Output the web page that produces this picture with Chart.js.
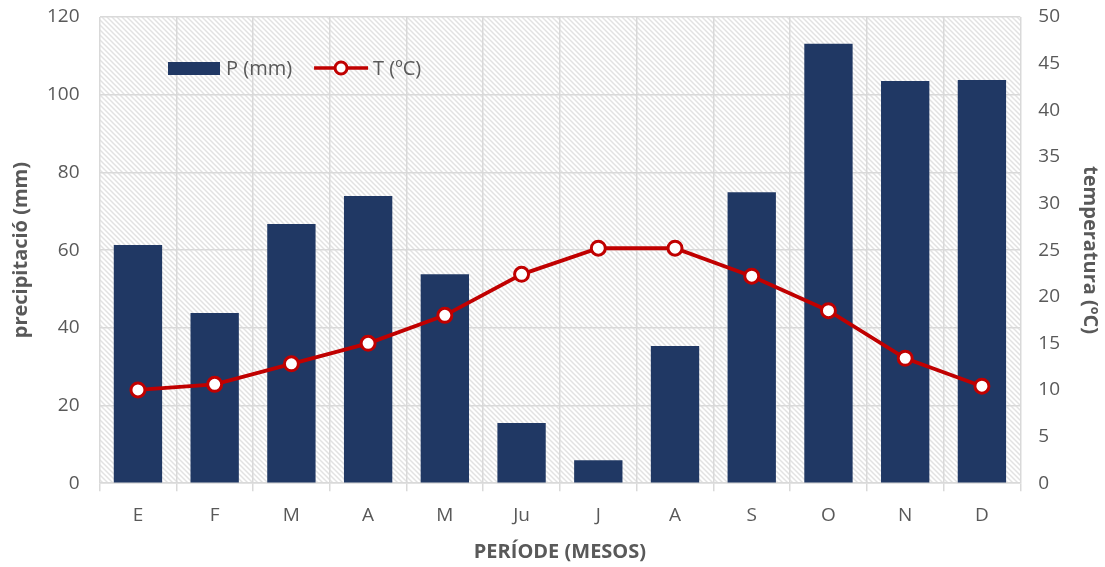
<!DOCTYPE html>
<html>
<head>
<meta charset="utf-8">
<script src="https://cdn.jsdelivr.net/npm/chart.js@4/dist/chart.umd.min.js"></script>
<style>
  html, body { margin: 0; padding: 0; background: #fff; }
  #wrap { width: 1105px; height: 567px; position: relative; }
</style>
</head>
<body>
<div id="wrap"><canvas id="climaChart"></canvas></div>
<script>
// Climograma: precipitació (barres) i temperatura (línia)
const mesos = ['E', 'F', 'M', 'A', 'M', 'Ju', 'J', 'A', 'S', 'O', 'N', 'D'];
const precipitacio = [61.3, 43.8, 66.7, 73.9, 53.8, 15.5, 5.9, 35.3, 74.9, 113.1, 103.5, 103.8];
const temperatura = [10.0, 10.6, 12.8, 15.0, 18.0, 22.4, 25.2, 25.2, 22.2, 18.5, 13.4, 10.4];
const ticksP = [0, 20, 40, 60, 80, 100, 120];
const ticksT = [0, 5, 10, 15, 20, 25, 30, 35, 40, 45, 50];

const textColor = '#595959';
const gridColor = '#d9d9d9';
const barColor = '#203864';
const lineColor = '#c00000';

// patró de ratlles diagonals per al fons de l'àrea del gràfic
function makeHatch() {
    const n = 5;
    const c = document.createElement('canvas');
    c.width = n; c.height = n;
    const g = c.getContext('2d');
    g.fillStyle = '#ffffff';
    g.fillRect(0, 0, n, n);
    g.strokeStyle = '#e2e2e2';
    g.lineWidth = 1.5;
    g.beginPath();
    g.moveTo(-1, -1); g.lineTo(n + 1, n + 1);
    g.moveTo(-1, n - 1); g.lineTo(1, n + 1);
    g.moveTo(n - 1, -1); g.lineTo(n + 1, 1);
    g.stroke();
    return g.createPattern(c, 'repeat');
}

const hatchBackground = {
    id: 'hatchBackground',
    beforeDraw(chart) {
        const a = chart.chartArea;
        const ctx = chart.ctx;
        ctx.save();
        ctx.fillStyle = makeHatch();
        ctx.fillRect(a.left, a.top, a.right - a.left, a.bottom - a.top);
        ctx.restore();
    }
};

// llegenda dins l'àrea del gràfic, a l'estil d'Excel
const insideLegend = {
    id: 'insideLegend',
    afterDraw(chart) {
        const ctx = chart.ctx;
        const ds = chart.data.datasets;
        const bars = ds.find(d => d.type === 'bar');
        const line = ds.find(d => d.type === 'line');
        const y = 68;
        let x = 168;
        ctx.save();
        ctx.font = '20px "Open Sans"';
        ctx.textBaseline = 'middle';

        // barres
        ctx.fillStyle = bars.backgroundColor;
        ctx.fillRect(x, y - 6, 52, 13);
        ctx.fillStyle = textColor;
        ctx.fillText(bars.label, x + 58, y + 1);
        x += 58 + ctx.measureText(bars.label).width + 22;

        // línia
        ctx.strokeStyle = line.borderColor;
        ctx.lineWidth = 3.5;
        ctx.beginPath();
        ctx.moveTo(x, y); ctx.lineTo(x + 54, y);
        ctx.stroke();
        ctx.beginPath();
        ctx.arc(x + 27, y, 6, 0, Math.PI * 2);
        ctx.fillStyle = '#ffffff';
        ctx.fill();
        ctx.lineWidth = 3;
        ctx.stroke();
        ctx.fillStyle = textColor;
        ctx.fillText(line.label, x + 59, y + 1);
        ctx.restore();
    }
};

const ctx = document.getElementById('climaChart');
new Chart(ctx, {
    data: {
        labels: mesos,
        datasets: [
            {
                type: 'line',
                label: 'T (ºC)',
                data: temperatura,
                yAxisID: 'yT',
                borderColor: lineColor,
                borderWidth: 3.8,
                pointRadius: 7,
                pointBorderWidth: 3,
                pointBackgroundColor: '#ffffff',
                pointBorderColor: lineColor,
                tension: 0,
                order: 0
            },
            {
                type: 'bar',
                label: 'P (mm)',
                data: precipitacio,
                yAxisID: 'yP',
                backgroundColor: barColor,
                barPercentage: 0.63,
                categoryPercentage: 1,
                order: 1
            }
        ]
    },
    options: {
        responsive: true,
        maintainAspectRatio: false,
        animation: false,
        layout: { padding: { top: 17, right: 0, bottom: 0, left: 9 } },
        plugins: {
            legend: { display: false },
            tooltip: { enabled: false }
        },
        scales: {
            x: {
                offset: true,
                grid: {
                    offset: true,
                    color: gridColor,
                    lineWidth: 1.5,
                    tickLength: 8
                },
                border: { color: gridColor, width: 1.5 },
                ticks: { color: textColor, font: { family: 'Open Sans', size: 19 }, padding: 13 },
                title: {
                    display: true,
                    text: 'PERÍODE (MESOS)',
                    color: textColor,
                    font: { family: 'Open Sans', size: 20, weight: 'bold' },
                    padding: { top: 0, bottom: 3 }
                }
            },
            yP: {
                position: 'left',
                min: 0,
                max: 120,
                afterBuildTicks(axis) { axis.ticks = ticksP.map(v => ({ value: v })); },
                grid: { color: gridColor, lineWidth: 1.5, tickLength: 16, tickColor: 'transparent' },
                border: { display: false },
                ticks: { color: textColor, font: { family: 'Open Sans', size: 19 }, padding: 4 },
                title: {
                    display: true,
                    text: 'precipitació (mm)',
                    color: textColor,
                    font: { family: 'Open Sans', size: 20, weight: 'bold' },
                    padding: { top: 0, bottom: 10 }
                }
            },
            yT: {
                position: 'right',
                min: 0,
                max: 50,
                afterBuildTicks(axis) { axis.ticks = ticksT.map(v => ({ value: v })); },
                grid: { drawOnChartArea: false, tickLength: 14, tickColor: 'transparent' },
                border: { display: false },
                ticks: { color: textColor, font: { family: 'Open Sans', size: 19 }, padding: 4 },
                title: {
                    display: true,
                    text: 'temperatura (ºC)',
                    color: textColor,
                    font: { family: 'Open Sans', size: 20, weight: 'bold' },
                    padding: { top: 3, bottom: 14 }
                }
            }
        }
    },
    plugins: [hatchBackground, insideLegend]
});
</script>
</body>
</html>
